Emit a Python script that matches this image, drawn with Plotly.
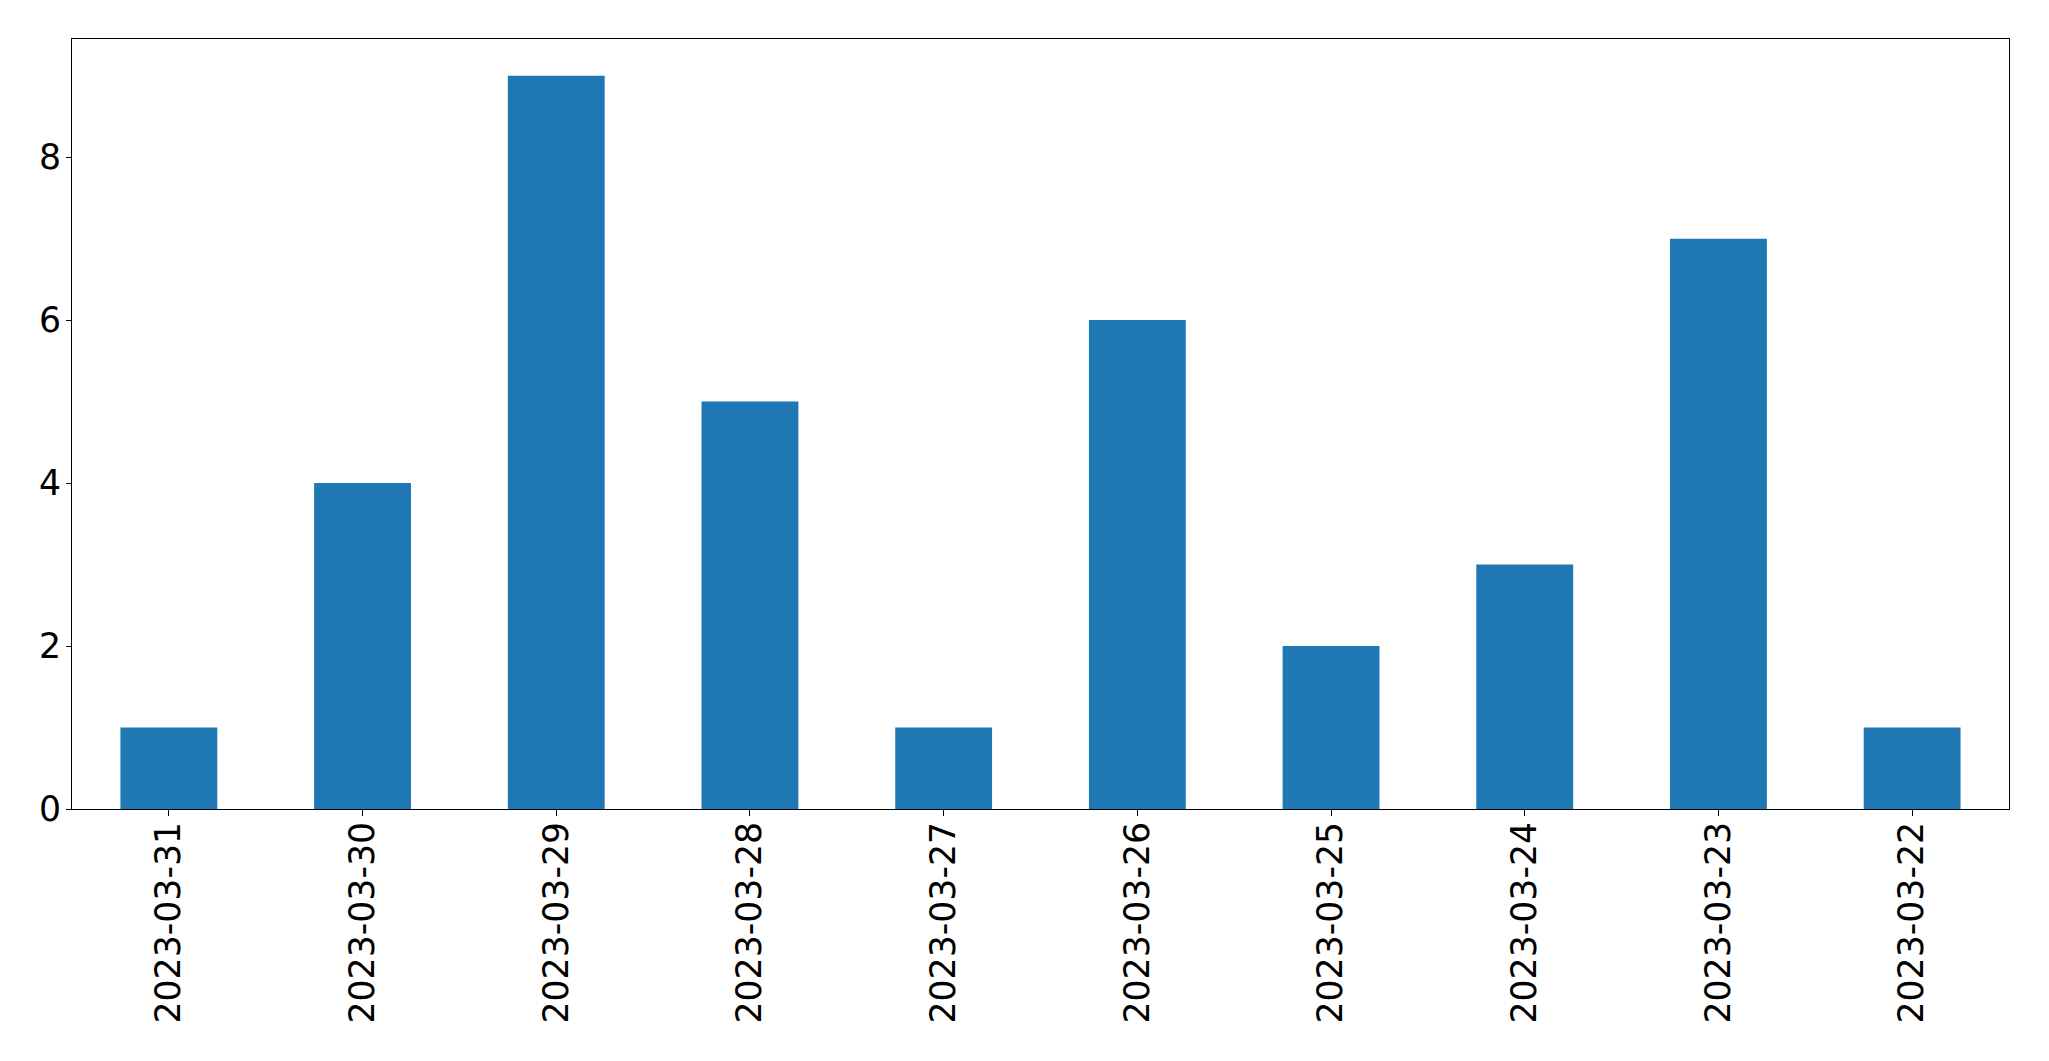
import plotly.graph_objects as go

dates = ["2023-03-31", "2023-03-30", "2023-03-29", "2023-03-28", "2023-03-27",
         "2023-03-26", "2023-03-25", "2023-03-24", "2023-03-23", "2023-03-22"]
counts = [1, 4, 9, 5, 1, 6, 2, 3, 7, 1]
y_ticks = [0, 2, 4, 6, 8]

fig = go.Figure(go.Bar(x=dates, y=counts, marker=dict(color="#1f77b4", line=dict(width=0)),
                       width=0.5))

font = "DejaVu Sans, Liberation Sans, sans-serif"
fig.update_layout(
    width=2049, height=1061,
    margin=dict(l=64, r=48, t=31, b=260),
    plot_bgcolor="white", paper_bgcolor="white",
    showlegend=False,
    font=dict(family=font, size=34.7, color="black"),
)
fig.update_xaxes(
    type="category", range=[-0.5, 9.5],
    tickangle=-90, ticks="outside", ticklen=6, tickwidth=1.1, tickcolor="black",
    showline=True, linecolor="black", linewidth=1.1, mirror=True,
    showgrid=False, zeroline=False, ticklabelstandoff=-8,
)
fig.update_yaxes(
    range=[0, 9.45], tickvals=y_ticks,
    ticks="outside", ticklen=5, tickwidth=1.1, tickcolor="black",
    showline=True, linecolor="black", linewidth=1.1, mirror=True,
    showgrid=False, zeroline=False, ticklabelstandoff=-2,
)
fig.write_html("out.html")
